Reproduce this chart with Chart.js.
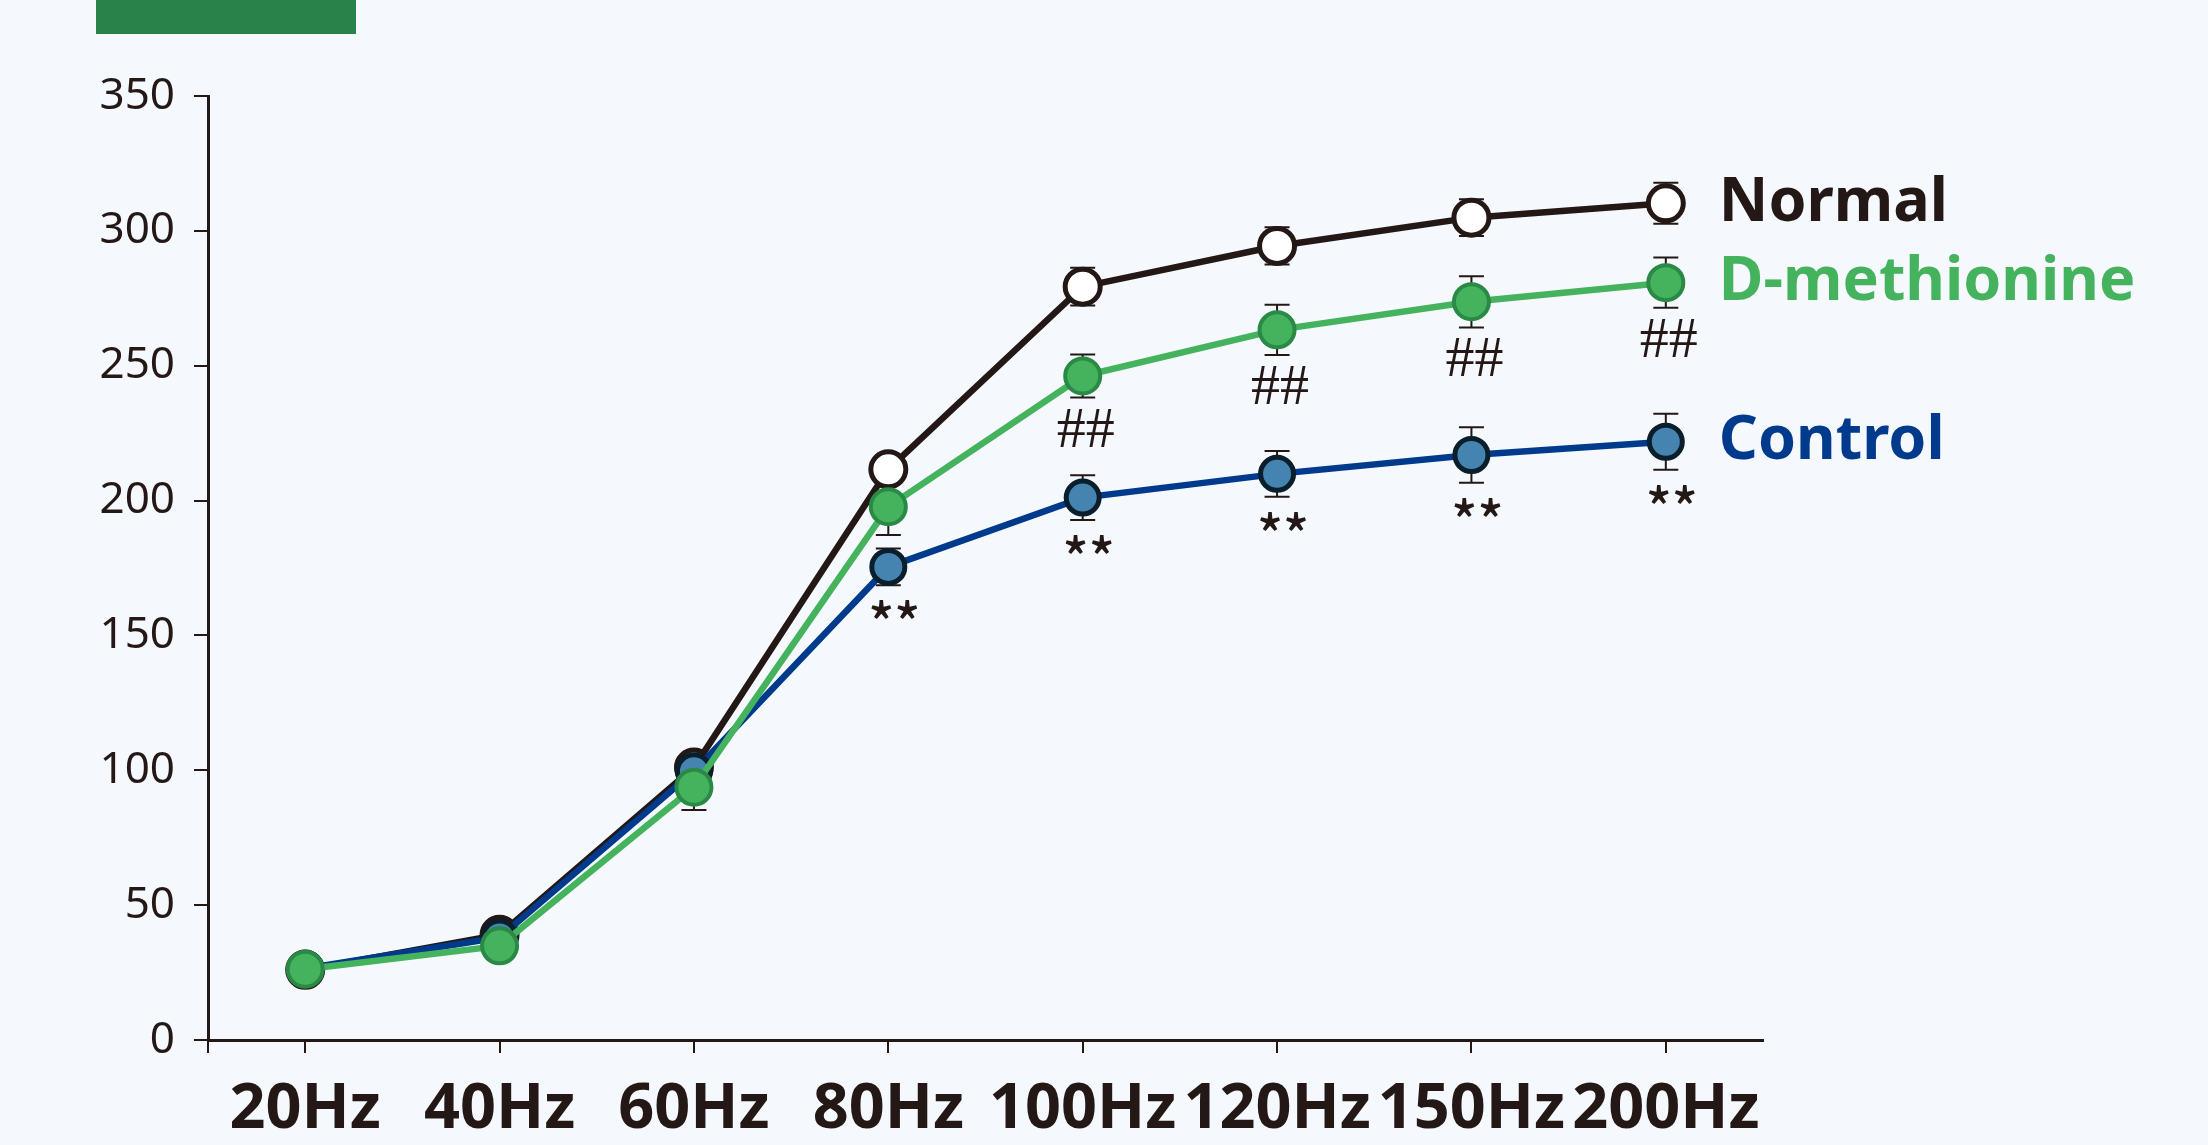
<!DOCTYPE html>
<html>
<head>
<meta charset="utf-8">
<title>Frequency response</title>
<script src="https://cdn.jsdelivr.net/npm/chart.js@4.4.1/dist/chart.umd.min.js"></script>
<style>
  html, body { margin: 0; padding: 0; background: #f5f9fd; }
  #wrap { position: relative; width: 2208px; height: 1145px; overflow: hidden; background: #f5f9fd; }
  #tag { position: absolute; left: 96px; top: 0; width: 260px; height: 34px; background: #27834a; }
  #c { position: absolute; left: 0; top: 0; }
</style>
</head>
<body>
<div id="wrap">
  <div id="tag"></div>
  <canvas id="c" width="2208" height="1145"></canvas>
</div>
<script>
// Stimulation frequencies
const frequencies = ['20Hz', '40Hz', '60Hz', '80Hz', '100Hz', '120Hz', '150Hz', '200Hz'];

// Group means
const normalMeans  = [26.0, 39.0, 101.0, 211.6, 279.3, 294.4, 304.9, 310.2];
const dmetMeans    = [26.2, 34.9, 93.7, 197.7, 246.2, 263.3, 273.7, 280.8];
const controlMeans = [26.5, 38.0, 99.6, 175.4, 201.1, 209.9, 216.9, 221.8];

// Error (± bar half-length)
const normalErr  = [2.0, 3.0, 4.0, 5.0, 7.0, 6.9, 6.8, 7.6];
const dmetErr    = [2.0, 3.0, 8.4, 10.5, 8.0, 9.3, 9.5, 9.3];
const controlErr = [2.0, 3.0, 4.0, 6.8, 8.3, 8.5, 10.3, 10.4];

// Significance marks drawn under the points
const dmetMarks    = ['', '', '', '', '##', '##', '##', '##'];
const controlMarks = ['', '', '', '**', '**', '**', '**', '**'];

// Y axis ticks
const yTicks = [0, 50, 100, 150, 200, 250, 300, 350];

const INK = '#231815';
const GREEN = '#45b35e';
const GREEN_DARK = '#2a8a45';
const BLUE_LINE = '#003a8c';
const BLUE_FILL = '#4584b0';
const BLUE_EDGE = '#0b1e2c';

const series = [
  { label: 'D-methionine', data: dmetMeans, err: dmetErr, marks: dmetMarks, markFont: '58px "Liberation Serif"', markDx: 3, markGap: 30,
    borderColor: GREEN, pointBackgroundColor: GREEN, pointBorderColor: GREEN_DARK, pointBorderWidth: 4, pointRadius: 17.5, order: 0, textColor: GREEN },
  { label: 'Control', data: controlMeans, err: controlErr, marks: controlMarks, markFont: '500 54px "Noto Sans CJK JP"', markDx: 6, markGap: 24,
    borderColor: BLUE_LINE, pointBackgroundColor: BLUE_FILL, pointBorderColor: BLUE_EDGE, pointBorderWidth: 5, pointRadius: 16.5, order: 1, textColor: BLUE_LINE },
  { label: 'Normal', data: normalMeans, err: normalErr, marks: null,
    borderColor: INK, pointBackgroundColor: '#ffffff', pointBorderColor: INK, pointBorderWidth: 5, pointRadius: 17.5, order: 2, textColor: INK }
];

// Error bars, drawn beneath every line and marker
const errorBars = {
  id: 'errorBars',
  beforeDatasetsDraw(chart) {
    const ctx = chart.ctx;
    const y = chart.scales.y;
    ctx.save();
    ctx.strokeStyle = INK;
    ctx.lineWidth = 2;
    chart.data.datasets.forEach((ds, i) => {
      const meta = chart.getDatasetMeta(i);
      meta.data.forEach((pt, j) => {
        const v = ds.data[j], e = ds.err[j];
        const top = y.getPixelForValue(v + e), bot = y.getPixelForValue(v - e);
        const half = 12.5;
        ctx.beginPath();
        ctx.moveTo(pt.x, top); ctx.lineTo(pt.x, bot);
        ctx.moveTo(pt.x - half, top); ctx.lineTo(pt.x + half, top);
        ctx.moveTo(pt.x - half, bot); ctx.lineTo(pt.x + half, bot);
        ctx.stroke();
      });
    });
    ctx.restore();
  }
};

// Significance marks, series names at the line ends, and the axis corner tick
const annotations = {
  id: 'annotations',
  afterDatasetsDraw(chart) {
    const ctx = chart.ctx;
    const y = chart.scales.y;
    const area = chart.chartArea;
    ctx.save();

    // corner tick below the origin
    ctx.strokeStyle = INK;
    ctx.lineWidth = 2;
    ctx.beginPath();
    ctx.moveTo(area.left, area.bottom);
    ctx.lineTo(area.left, area.bottom + 13);
    ctx.stroke();

    chart.data.datasets.forEach((ds, i) => {
      const meta = chart.getDatasetMeta(i);
      if (ds.marks) {
        ctx.font = ds.markFont;
        ctx.fillStyle = INK;
        ctx.textAlign = 'center';
        ctx.textBaseline = 'alphabetic';
        meta.data.forEach((pt, j) => {
          const txt = ds.marks[j];
          if (!txt) return;
          const m = ctx.measureText(txt);
          const center = y.getPixelForValue(ds.data[j] - ds.err[j]) + ds.markGap;
          const base = center + (m.actualBoundingBoxAscent - m.actualBoundingBoxDescent) / 2;
          ctx.fillText(txt, pt.x + ds.markDx, base);
        });
      }
      // series name beside the last point
      const last = meta.data[meta.data.length - 1];
      ctx.font = 'bold 61px "Noto Sans"';
      ctx.fillStyle = ds.textColor;
      ctx.textAlign = 'left';
      ctx.textBaseline = 'alphabetic';
      const m = ctx.measureText(ds.label);
      const cy = last.y - 5;
      ctx.fillText(ds.label, last.x + 53, cy + (m.actualBoundingBoxAscent - m.actualBoundingBoxDescent) / 2);
    });
    ctx.restore();
  }
};

new Chart(document.getElementById('c'), {
  type: 'line',
  data: {
    labels: frequencies,
    datasets: series.map(s => ({
      label: s.label,
      data: s.data,
      err: s.err,
      marks: s.marks,
      markFont: s.markFont,
      markDx: s.markDx,
      markGap: s.markGap,
      textColor: s.textColor,
      borderColor: s.borderColor,
      borderWidth: 6.5,
      tension: 0,
      fill: false,
      pointRadius: s.pointRadius,
      pointBackgroundColor: s.pointBackgroundColor,
      pointBorderColor: s.pointBorderColor,
      pointBorderWidth: s.pointBorderWidth,
      order: s.order
    }))
  },
  options: {
    responsive: false,
    animation: false,
    devicePixelRatio: 1,
    layout: { padding: { left: 0, top: 96, right: 445, bottom: 0 } },
    plugins: { legend: { display: false }, tooltip: { enabled: false } },
    scales: {
      x: {
        type: 'category',
        offset: true,
        grid: { display: true, drawOnChartArea: false, drawTicks: true, tickLength: 13, color: INK, lineWidth: 2, offset: false },
        border: { display: true, color: INK, width: 3 },
        ticks: { color: INK, font: { family: 'Noto Sans', weight: 'bold', size: 63 }, padding: 19, maxRotation: 0, autoSkip: false },
        afterFit(scale) { scale.height = 105; }
      },
      y: {
        min: 0,
        max: 350,
        afterBuildTicks(scale) { scale.ticks = yTicks.map(v => ({ value: v })); },
        grid: { display: true, drawOnChartArea: false, drawTicks: true, tickLength: 14, color: INK, lineWidth: 2 },
        border: { display: true, color: INK, width: 3 },
        ticks: { color: INK, font: { family: 'Noto Sans', size: 44 }, padding: 19 },
        afterFit(scale) { scale.width = 208; }
      }
    }
  },
  plugins: [errorBars, annotations]
});
</script>
</body>
</html>
